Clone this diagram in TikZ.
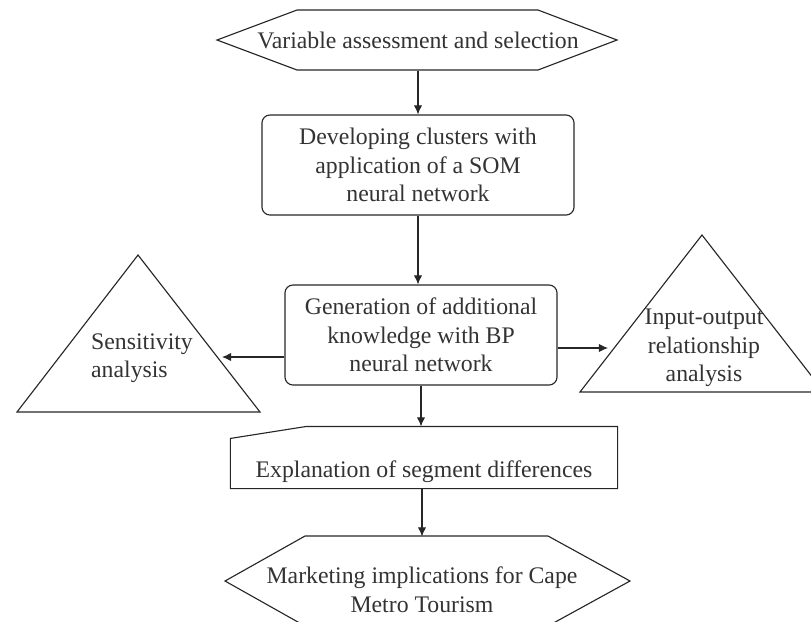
\documentclass[tikz,border=0pt]{standalone}
\usepackage{fontspec}
\setmainfont{Liberation Serif}
\usetikzlibrary{arrows.meta}
\begin{document}
\begin{tikzpicture}[x=0.025cm,y=-0.025cm,>={Latex[length=6.5pt,width=6pt]},line width=0.8pt,draw=black!85,
  every node/.style={font=\fontsize{16.9}{20.3}\selectfont,text=black!80,align=center,inner sep=0pt},
  box/.style={draw,rounded corners=0.2cm,minimum height=2.5cm}]
  \useasboundingbox (0,0) rectangle (811,621);
  \clip (0,0) rectangle (811,621);

  % main column
  \node[minimum height=1.5cm] (sel) at (418,40) {Variable assessment and selection};
  \draw (sel.center) ++(-121,-30) -- ++(241,0) -- ++(79,30) -- ++(-79,30) -- ++(-241,0) -- ++(-80,-30) -- cycle;

  \node[box,minimum width=7.8cm] (dev) at (418,165) {Developing clusters with\\application of a SOM\\neural network};
  \node[box,minimum width=6.8cm] (gen) at (421,335) {Generation of additional\\knowledge with BP\\neural network};

  \node[minimum width=9.65cm,text height=1.25cm,text depth=0.275cm] (expl) at (424,457.5) {Explanation of segment differences};
  \draw (expl.south west) -- ([yshift=-0.3cm]expl.north west) -- ([xshift=1.9cm]expl.north west) -- (expl.north east) -- (expl.south east) -- cycle;

  \node[minimum height=2.65cm] (mkt) at (422,590) {Marketing implications for Cape\\Metro Tourism};
  \draw (mkt.center) ++(-117,-54) -- ++(243,0) -- ++(82,45) -- ++(-82,45) -- ++(-243,0) -- ++(-80,-45) -- cycle;

  % side triangles
  \node[align=left] (sens) at (142,358) {Sensitivity\\analysis};
  \draw (138,255) -- (260,412) -- (17,412) -- cycle;
  \node (io) at (704,348) {Input-output\\relationship\\analysis};
  \draw (702,235) -- (824,392) -- (580,392) -- cycle;
  \coordinate (sensin) at (222,357);
  \coordinate (ioin) at (608,348);

  \draw[->] (sel.south) -- (dev.north);
  \draw[->] (dev.south) -- (dev.south |- gen.north);
  \draw[->] (gen.south) -- (gen.south |- expl.north);
  \draw[->] (mkt.north |- expl.south) -- (mkt.north);
  \draw[->] (gen.west |- sensin) -- (sensin);
  \draw[->] (gen.east |- ioin) -- (ioin);
\end{tikzpicture}
\end{document}
